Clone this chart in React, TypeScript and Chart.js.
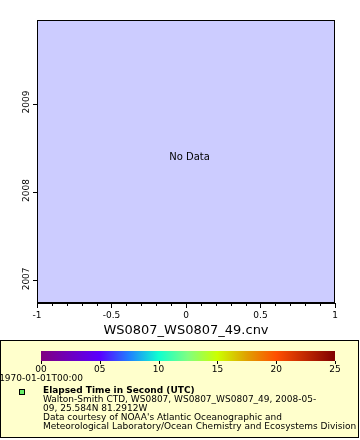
import React, { useEffect, useRef } from "react";
import { Chart, registerables } from "chart.js";

Chart.register(...registerables);

const X_MIN = -1;
const X_MAX = 1;
const X_STEP = 0.5;
const X_MINOR_TICKS = [-0.9, -0.8, -0.7, -0.6, -0.4, -0.3, -0.2, -0.1, 0.1, 0.2, 0.3, 0.4, 0.6, 0.7, 0.8, 0.9];
const Y_MIN = 2006.75;
const Y_MAX = 2009.95;
const Y_TICKS = [2007, 2008, 2009];
const X_TITLE = "WS0807_WS0807_49.cnv";
const NO_DATA = "No Data";

const CB_MIN = 0;
const CB_MAX = 25;
const CB_TICKS = [0, 5, 10, 15, 20, 25];
const CB_TICK_LABELS = ["00", "05", "10", "15", "20", "25"];
const CB_STOPS = [0, 0.2, 0.3, 0.4, 0.5, 0.6, 0.7, 0.8, 1];
const CB_COLORS = ["#800080", "#5a00ff", "#2080ff", "#10ffd0", "#80ff80", "#ccff00", "#e0a000", "#ff5000", "#800000"];
const CB_START_LABEL = "1970-01-01T00:00";
const LEGEND_TITLE = "Elapsed Time in Second (UTC)";
const LEGEND_LINES = [
  "Walton-Smith CTD, WS0807, WS0807_WS0807_49, 2008-05-",
  "09, 25.584N 81.2912W",
  "Data courtesy of NOAA's Atlantic Oceanographic and",
  "Meteorological Laboratory/Ocean Chemistry and Ecosystems Division",
];

const FONT = "'DejaVu Sans', sans-serif";

const decorPlugin = {
  id: "decor",
  beforeDraw(chart: any) {
    const { ctx, chartArea: a } = chart;
    ctx.save();
    ctx.fillStyle = "#ffffff";
    ctx.fillRect(0, 0, chart.width, chart.height);
    ctx.fillStyle = "#ccccff";
    ctx.fillRect(a.left, a.top, a.right - a.left, a.bottom - a.top);
    ctx.restore();
  },
  afterDraw(chart: any) {
    const { ctx, chartArea: a } = chart;
    const xs = chart.scales.x;
    const ys = chart.scales.y;
    ctx.save();
    // frame
    ctx.strokeStyle = "#000";
    ctx.lineWidth = 1;
    ctx.strokeRect(Math.round(a.left) + 0.5, Math.round(a.top) + 0.5, Math.round(a.right - a.left) - 1, Math.round(a.bottom - a.top) - 1);
    // minor x ticks
    ctx.beginPath();
    for (const v of X_MINOR_TICKS) {
      const px = Math.round(xs.getPixelForValue(v)) + 0.5;
      ctx.moveTo(px, a.bottom);
      ctx.lineTo(px, a.bottom + 3);
    }
    ctx.stroke();
    // y tick labels (rotated)
    ctx.fillStyle = "#000";
    ctx.font = `9px ${FONT}`;
    ctx.textAlign = "center";
    ctx.textBaseline = "middle";
    for (const t of ys.ticks) {
      const py = ys.getPixelForValue(t.value);
      ctx.save();
      ctx.translate(27, py - 2);
      ctx.rotate(-Math.PI / 2);
      ctx.fillText(String(t.value), 0, 0);
      ctx.restore();
    }
    // No Data
    ctx.font = `10px ${FONT}`;
    ctx.fillText(NO_DATA, (a.left + a.right) / 2 + 3.5, (a.top + a.bottom) / 2 - 4);

    // legend panel
    const bx = 0.5, by = 340.5, bw = 358, bh = 97;
    ctx.fillStyle = "#ffffcc";
    ctx.fillRect(bx, by, bw, bh);
    ctx.strokeStyle = "#000";
    ctx.strokeRect(bx, by, bw, bh);

    // colorbar
    const cx0 = 41, cx1 = 335, cy0 = 351, cy1 = 361;
    const grad = ctx.createLinearGradient(cx0, 0, cx1, 0);
    CB_STOPS.forEach((s, i) => grad.addColorStop(s, CB_COLORS[i]));
    ctx.fillStyle = grad;
    ctx.fillRect(cx0, cy0, cx1 - cx0, cy1 - cy0);
    ctx.beginPath();
    const cbx = (v: number) => cx0 + ((v - CB_MIN) / (CB_MAX - CB_MIN)) * (cx1 - cx0);
    for (const v of CB_TICKS) {
      const px = Math.round(cbx(v)) + 0.5;
      ctx.moveTo(px, cy1);
      ctx.lineTo(px, cy1 + 3);
    }
    ctx.strokeStyle = "#000";
    ctx.stroke();
    ctx.fillStyle = "#000";
    ctx.font = `9px ${FONT}`;
    ctx.textAlign = "center";
    ctx.textBaseline = "middle";
    CB_TICKS.forEach((v, i) => ctx.fillText(CB_TICK_LABELS[i], cbx(v), 370));
    ctx.fillText(CB_START_LABEL, cbx(CB_MIN), 379);

    // marker
    ctx.fillStyle = "#66ee66";
    ctx.fillRect(19.5, 389.5, 5, 5);
    ctx.strokeStyle = "#000";
    ctx.strokeRect(19.5, 389.5, 5, 5);

    // legend text, clipped to the box
    ctx.save();
    ctx.beginPath();
    ctx.rect(1, 341, 357, 96);
    ctx.clip();
    ctx.fillStyle = "#000";
    ctx.textAlign = "left";
    ctx.font = `bold 9px ${FONT}`;
    ctx.fillText(LEGEND_TITLE, 43, 391);
    ctx.font = `9px ${FONT}`;
    LEGEND_LINES.forEach((l, i) => ctx.fillText(l, 43, 400 + i * 9));
    ctx.restore();
    ctx.restore();
  },
};

export default function App() {
  const ref = useRef<HTMLCanvasElement | null>(null);
  useEffect(() => {
    document.body.style.margin = "0";
    Chart.defaults.font.family = FONT;
    const chart = new Chart(ref.current as HTMLCanvasElement, {
      type: "scatter",
      data: { datasets: [] },
      options: {
        animation: false,
        responsive: false,
        devicePixelRatio: 1,
        layout: { padding: { left: 0, top: 20, right: 25, bottom: 102 } },
        plugins: { legend: { display: false }, tooltip: { enabled: false } },
        scales: {
          x: {
            type: "linear",
            min: X_MIN,
            max: X_MAX,
            ticks: {
              stepSize: X_STEP,
              color: "#000",
              font: { size: 9 },
              padding: 2,
              maxRotation: 0,
              callback: (v: any) => String(Math.round(Number(v) * 10) / 10),
            },
            grid: { drawOnChartArea: false, tickLength: 5, color: "#000" },
            border: { color: "#000" },
            title: { display: true, text: X_TITLE, color: "#000", font: { size: 13 }, padding: 0 },
            afterFit: (s: any) => { s.height = 35; },
          },
          y: {
            type: "linear",
            min: Y_MIN,
            max: Y_MAX,
            afterBuildTicks: (s: any) => { s.ticks = Y_TICKS.map((v) => ({ value: v })); },
            ticks: { color: "rgba(0,0,0,0)", font: { size: 9 } },
            grid: { drawOnChartArea: false, tickLength: 4, color: "#000" },
            border: { color: "#000" },
            afterFit: (s: any) => { s.width = 37; },
          },
        },
      } as any,
      plugins: [decorPlugin],
    });
    return () => chart.destroy();
  }, []);
  return (
    <div style={{ position: "fixed", left: 0, top: 0, width: 360, height: 440 }}>
      <canvas ref={ref} width={360} height={440} style={{ display: "block" }} />
    </div>
  );
}
